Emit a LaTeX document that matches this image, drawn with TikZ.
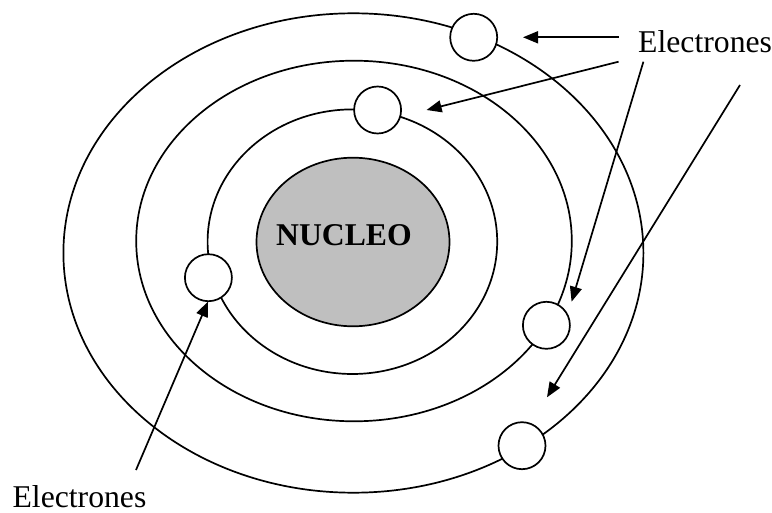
\documentclass[tikz,border=0pt]{standalone}
\usepackage{fontspec}
\setmainfont{Liberation Serif}
\usetikzlibrary{arrows.meta,shapes.geometric}
\begin{document}
\begin{tikzpicture}[x=1pt,y=-1pt,
  orbit/.style={draw=black,line width=1.7pt},
  electron/.style={circle,draw=black,fill=white,line width=1.7pt,minimum size=47pt,inner sep=0pt},
  pointer/.style={draw=black,line width=1.7pt,-{Triangle[length=15pt,width=12pt]}},
  lbl/.style={font=\fontsize{31.7}{36}\selectfont,inner sep=0pt}]
\useasboundingbox (0,0) rectangle (772,513);
% nucleus
\node[ellipse,draw=black,line width=1.7pt,fill=black!25,minimum width=193pt,minimum height=168.6pt,inner sep=0pt] (nucleus) at (353,242) {};
\node[lbl,font=\fontsize{31.7}{36}\selectfont\bfseries,anchor=base] (nucleotext) at (344,246) {NUCLEO};
% orbits
\draw[orbit] (352.4,241.7) ellipse [x radius=144.8pt, y radius=132.3pt];
\draw[orbit] (354,241) ellipse [x radius=217.8pt, y radius=180.3pt];
\draw[orbit] (353.4,253) ellipse [x radius=290pt, y radius=239.7pt];
% electrons
\node[electron] (e1) at (473.7,37.3) {};
\node[electron] (e2) at (377.6,110) {};
\node[electron] (e3) at (208.4,277.7) {};
\node[electron] (e4) at (546.4,325.3) {};
\node[electron] (e5) at (522,445.7) {};
% labels
\node[lbl,anchor=base west] (ltop) at (638,52.3) {Electrones};
\node[lbl,anchor=base west] (lbot) at (12.4,507.5) {Electrones};
% arrow ends
\coordinate (s1) at (618.6,37.3);   \coordinate (t1) at (523,37.3);
\coordinate (s2) at (618.6,61.7);   \coordinate (t2) at (426.6,110);
\coordinate (s3) at (643.4,61.7);   \coordinate (t3) at (571.6,301.7);
\coordinate (s4) at (740,85);       \coordinate (t4) at (547,397.3);
\coordinate (s5) at (136,470);      \coordinate (t5) at (207.9,301.7);
\draw[pointer] (s1) -- (t1);
\draw[pointer] (s2) -- (t2);
\draw[pointer] (s3) -- (t3);
\draw[pointer] (s4) -- (t4);
\draw[pointer] (s5) -- (t5);
\end{tikzpicture}
\end{document}
